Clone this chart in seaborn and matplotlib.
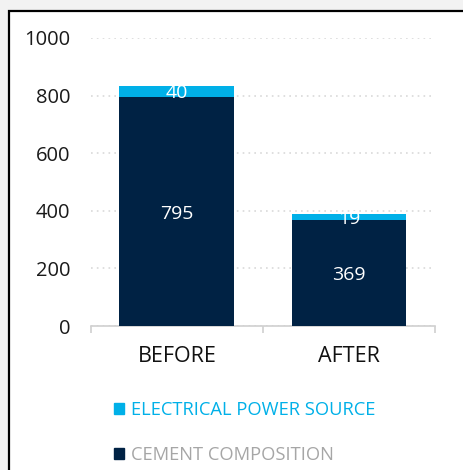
import numpy as np
import pandas as pd
import matplotlib
matplotlib.use("Agg")
import matplotlib.pyplot as plt
import matplotlib.patches as mpatches
import seaborn as sns

# data
stages = ["BEFORE", "AFTER"]
cement = [795, 369]
electrical = [40, 19]
series_names = ["ELECTRICAL POWER SOURCE", "CEMENT COMPOSITION"]
yticks = [0, 200, 400, 600, 800, 1000]

navy = "#002244"
cyan = "#00B0E8"

df = pd.DataFrame({"stage": stages, "cement": cement, "electrical": electrical})
df["total"] = df["cement"] + df["electrical"]

sns.set_theme(style="white")
plt.rcParams['font.family'] = ['Open Sans', 'DejaVu Sans']

fig = plt.figure(figsize=(4.64, 4.70), dpi=100, facecolor="#f2f2f2")

# white panel with black border (left/top edges visible)
panel = mpatches.Rectangle((9 / 464, -0.2), 1.2, 1.2 - 11 / 470, transform=fig.transFigure,
                           facecolor="white", edgecolor="black", linewidth=1.6, zorder=-5)
fig.patches.append(panel)

ax = fig.add_axes([91 / 464, 1 - 326 / 470, (435 - 91) / 464, (326 - 38) / 470])
ax.set_facecolor("none")

bw = 115 / 172
sns.barplot(data=df, x="stage", y="total", color=cyan, width=bw, saturation=1, ax=ax, zorder=3)
sns.barplot(data=df, x="stage", y="cement", color=navy, width=bw, saturation=1, ax=ax, zorder=4)
for p in ax.patches:
    p.set_edgecolor("none")

# value labels
for i, row in df.iterrows():
    ax.text(i, row["cement"] / 2, str(row["cement"]), ha="center", va="center_baseline",
            color="white", fontsize=14, zorder=5)
    ax.text(i, row["cement"] + row["electrical"] / 2, str(row["electrical"]),
            ha="center", va="center_baseline", color="white", fontsize=14, zorder=5)

ax.set_ylim(0, 1000)
ax.set_xlim(-0.5, 1.5)
ax.set_yticks(yticks)
ax.set_yticklabels([str(t) for t in yticks], fontsize=14.5, color="#1a1a1a")
ax.yaxis.grid(True, linestyle=(0, (1, 2.5)), color="#d9d9d9", linewidth=1.2, zorder=0)
ax.set_xlabel("")
ax.set_ylabel("")
ax.tick_params(axis="y", length=0, pad=15)
ax.set_xticks([0, 1])
ax.set_xticklabels(stages, fontsize=15.5, color="#111111")
ax.set_xticks([-0.5, 0.5, 1.5], minor=True)
ax.tick_params(axis="x", which="major", bottom=False, length=0, pad=14.5)
ax.tick_params(axis="x", which="minor", bottom=True, length=5, width=1.2,
               color="#d0d0d0", direction="out")

for s in ["left", "right", "top"]:
    ax.spines[s].set_visible(False)
ax.spines["bottom"].set_color("#d0d0d0")
ax.spines["bottom"].set_linewidth(1.2)

handles = [mpatches.Patch(color=cyan), mpatches.Patch(color=navy)]
leg = fig.legend(handles, series_names, loc="upper left",
                 bbox_to_anchor=(114 / 464, 1 - 401 / 470), frameon=False,
                 fontsize=13.2, handlelength=0.55, handleheight=0.55,
                 handletextpad=0.38, labelspacing=1.45, borderpad=0, borderaxespad=0)
leg.get_texts()[0].set_color(cyan)
leg.get_texts()[1].set_color("#a6a6a6")

fig.savefig("out.png", dpi=100, facecolor=fig.get_facecolor())
